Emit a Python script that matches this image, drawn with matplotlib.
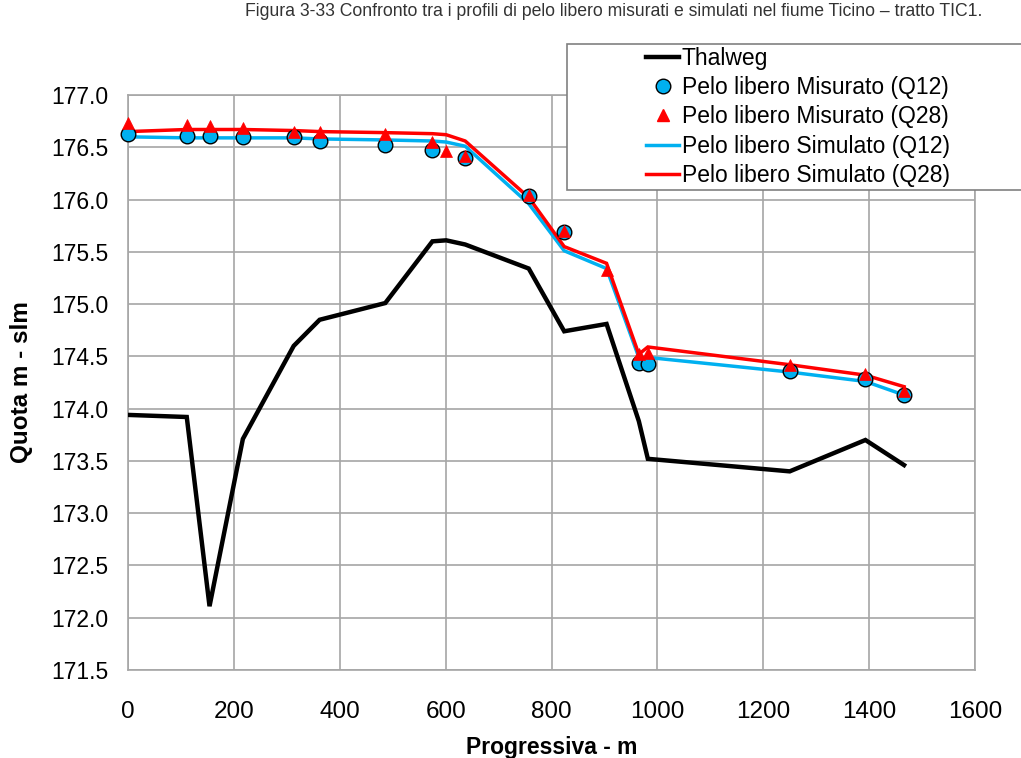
import matplotlib.pyplot as plt
from matplotlib.patches import Rectangle
from matplotlib.lines import Line2D

# Progressive distances of the surveyed sections (m)
progressiva = [0, 111, 154, 217, 313, 362, 486, 575, 601, 637, 757, 824, 904, 965, 982, 1250, 1393, 1466]

# Thalweg elevation (m slm)
thalweg = [173.94, 173.92, 172.11, 173.71, 174.60, 174.85, 175.01, 175.60, 175.61, 175.57,
           175.34, 174.74, 174.81, 173.88, 173.52, 173.40, 173.70, 173.46]

# Simulated water surface profiles
sim_q12 = [176.60, 176.59, 176.59, 176.59, 176.59, 176.58, 176.57, 176.56, 176.55, 176.51,
           175.96, 175.51, 175.34, 174.49, 174.49, 174.35, 174.26, 174.13]
sim_q28 = [176.65, 176.67, 176.67, 176.67, 176.66, 176.65, 176.64, 176.63, 176.62, 176.56,
           176.02, 175.55, 175.39, 174.52, 174.59, 174.42, 174.32, 174.21]

# Measured water surface (Q12)
x_mis_q12 = [0, 111, 154, 217, 313, 362, 486, 575, 637, 757, 824, 965, 982, 1250, 1393, 1466]
mis_q12 = [176.63, 176.61, 176.61, 176.60, 176.60, 176.56, 176.52, 176.47, 176.40, 176.03,
           175.69, 174.44, 174.43, 174.36, 174.28, 174.13]

# Measured water surface (Q28)
x_mis_q28 = [0, 111, 154, 217, 313, 362, 486, 575, 601, 637, 757, 824, 904, 965, 982, 1250, 1393, 1466]
mis_q28 = [176.73, 176.71, 176.70, 176.68, 176.65, 176.65, 176.63, 176.55, 176.46, 176.42,
           176.04, 175.70, 175.33, 174.52, 174.53, 174.42, 174.33, 174.17]

x_ticks = [0, 200, 400, 600, 800, 1000, 1200, 1400, 1600]
y_ticks = [171.5, 172.0, 172.5, 173.0, 173.5, 174.0, 174.5, 175.0, 175.5, 176.0, 176.5, 177.0]

plt.rcParams['font.family'] = ['Liberation Sans', 'DejaVu Sans']

W, H = 1021, 758
fig = plt.figure(figsize=(W / 100, H / 100), dpi=100)
ax = fig.add_axes([128 / W, 1 - 670 / H, (975 - 128) / W, (670 - 95) / H])

ciano = '#00B0F0'
rosso = '#FF0000'

ax.plot(progressiva, thalweg, color='black', lw=3.2, zorder=3, solid_joinstyle='miter')
ax.plot(progressiva, sim_q12, color=ciano, lw=2.5, zorder=3, solid_joinstyle='miter')
ax.plot(progressiva, sim_q28, color=rosso, lw=2.5, zorder=3, solid_joinstyle='miter')
ax.plot(x_mis_q12, mis_q12, 'o', ms=10.5, mfc=ciano, mec='black', mew=1.0, zorder=4, clip_on=False)
ax.plot(x_mis_q28, mis_q28, '^', ms=8.5, mfc=rosso, mec=rosso, mew=0.5, zorder=5, clip_on=False)

ax.set_xlim(0, 1600)
ax.set_ylim(171.5, 177.0)
ax.set_xticks(x_ticks)
ax.set_yticks(y_ticks)
ax.set_yticklabels([f'{v:.1f}' for v in y_ticks], fontsize=16.5)
ax.set_xticklabels([str(v) for v in x_ticks], fontsize=17.5)
ax.tick_params(axis='both', length=0)
ax.tick_params(axis='y', pad=14)
ax.tick_params(axis='x', pad=22)
ax.grid(True, color='#A6A6A6', lw=1.2)
ax.set_axisbelow(True)
for s in ax.spines.values():
    s.set_color('#A6A6A6')
    s.set_linewidth(1.2)

ax.set_xlabel('Progressiva - m', fontsize=16.5, fontweight='bold', labelpad=10)
ax.set_ylabel('Quota m - slm', fontsize=17.5, fontweight='bold', labelpad=13)

fig.text(614 / W, 1 - 12 / H, 'Figura 3-33 Confronto tra i profili di pelo libero misurati e simulati '
         'nel fiume Ticino \u2013 tratto TIC1.', ha='center', va='center',
         fontsize=12.7, color='#333333')

# Legend box
fig.patches.append(Rectangle((567 / W, 1 - 190 / H), (W + 10 - 567) / W, (190 - 44) / H,
                             transform=fig.transFigure, facecolor='white',
                             edgecolor='#808080', lw=1.2, zorder=10))

handles = [
    Line2D([], [], color='black', lw=3.2),
    Line2D([], [], ls='none', marker='o', ms=10.5, mfc=ciano, mec='black', mew=1.0),
    Line2D([], [], ls='none', marker='^', ms=8.5, mfc=rosso, mec=rosso),
    Line2D([], [], color=ciano, lw=2.5),
    Line2D([], [], color=rosso, lw=2.5),
]
labels = ['Thalweg', 'Pelo libero Misurato (Q12)', 'Pelo libero Misurato (Q28)',
          'Pelo libero Simulato (Q12)', 'Pelo libero Simulato (Q28)']
leg = fig.legend(handles, labels, loc='upper left', bbox_to_anchor=(630 / W, 1 - 31 / H),
                 frameon=False, fontsize=16.5, handlelength=1.45, handletextpad=0.1,
                 labelspacing=0.27, borderpad=0.2)
leg.set_zorder(11)

fig.savefig('out.png', dpi=100)
